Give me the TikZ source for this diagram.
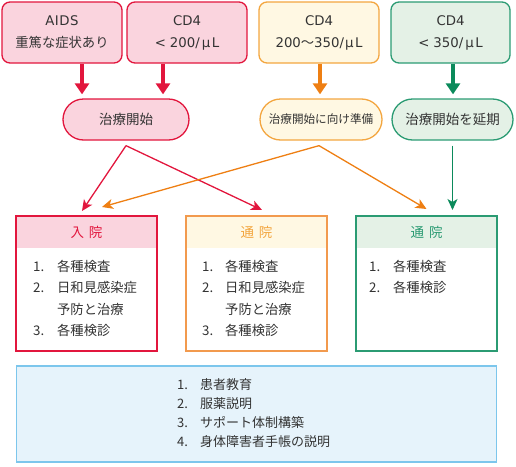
\documentclass[tikz,border=0pt]{standalone}
\usepackage{fontspec}
\setmainfont{Noto Sans CJK JP}
\newfontfamily\lat{DejaVu Sans}
\usetikzlibrary{arrows.meta,shapes.misc,calc}
\definecolor{cred}{HTML}{E2163D}
\definecolor{cpink}{HTML}{FAD4DE}
\definecolor{corTop}{HTML}{F3A640}
\definecolor{corFill}{HTML}{FFF8E3}
\definecolor{corArr}{HTML}{EE7F13}
\definecolor{corBox}{HTML}{F29A4E}
\definecolor{cgreen}{HTML}{2B9B73}
\definecolor{cgFill}{HTML}{E4F1E6}
\definecolor{cgArr}{HTML}{0B8A5B}
\definecolor{cblue}{HTML}{7CC6EC}
\definecolor{cbFill}{HTML}{E6F3FB}
\definecolor{ctxt}{HTML}{333333}
\begin{document}
\begin{tikzpicture}[x=1pt,y=-1pt,
  topbox/.style={draw, rounded corners=8pt, minimum width=120pt, minimum height=61pt,
    align=center, line width=1.3pt, inner sep=0pt, text=ctxt,
    font=\fontsize{13.3}{22}\selectfont},
  pill/.style={rounded rectangle, draw, minimum height=41pt, line width=1.3pt,
    inner sep=0pt, text=ctxt, font=\fontsize{13.5}{16}\selectfont},
  bigarrow/.style={line width=4pt, -{Triangle[width=14pt,length=11pt]}, shorten >=4pt},
  thinarrow/.style={line width=1.3pt, -{Stealth[length=11pt,width=10pt,inset=3pt]}},
  listbox/.style={draw, line width=2pt, minimum width=141pt, minimum height=135pt, inner sep=0pt},
  hdr/.style={font=\fontsize{13.5}{16}\selectfont},
  items/.style={anchor=base west, inner sep=0pt, text=ctxt, font=\fontsize{13.3}{21.3}\selectfont},
]
\useasboundingbox (0,0) rectangle (516,466);

% top boxes
\node[topbox, draw=cred, fill=cpink] (aids) at (62,32.5) {{\lat A\kern0.5pt I\kern0.5pt D\kern0.5pt S}\\重篤な症状あり};
\node[topbox, draw=cred, fill=cpink] (cdA) at (187,32.5) {{\lat CD4}\\{\lat <\hspace{4pt}200/\hspace{2pt}μ\hspace{1.5pt}L}};
\node[topbox, draw=corTop, fill=corFill] (cdB) at (319,32.5) {{\lat CD4}\\{\lat 200}〜{\lat 350/\hspace{1pt}μ\hspace{1.5pt}L}};
\node[topbox, draw=cgreen, fill=cgFill, minimum width=119pt] (cdC) at (450.5,32.5) {{\lat CD4}\\{\lat <\hspace{4pt}350/\hspace{2pt}μ\hspace{1.5pt}L}};

% pills
\node[pill, draw=cred, fill=cpink, minimum width=126pt] (start) at (126,119.5) {治療開始};
\node[pill, draw=corTop, fill=corFill, minimum width=122pt, font=\fontsize{11.6}{14}\selectfont] (prep) at (321,119.5) {治療開始に向け準備};
\node[pill, draw=cgreen, fill=cgFill, minimum width=121pt] (delay) at (452.5,119.5) {治療開始を延期};

% thick arrows
\draw[bigarrow, cred] ([xshift=20pt]aids.south) -- ([xshift=20pt]aids.south |- start.north);
\draw[bigarrow, cred] ([xshift=-24pt]cdA.south) -- ([xshift=-24pt]cdA.south |- start.north);
\draw[bigarrow, corArr] ([xshift=1pt]cdB.south) -- ([xshift=1pt]cdB.south |- prep.north);
\draw[bigarrow, cgArr] ([xshift=2.5pt]cdC.south) -- ([xshift=2.5pt]cdC.south |- delay.north);

% bottom list boxes
\node[listbox, draw=cred, path picture={\fill[cpink] (path picture bounding box.north west) rectangle ([yshift=-32pt]path picture bounding box.north east);}] (nyuin) at (86.5,283.5) {};
\node[listbox, draw=corBox, path picture={\fill[corFill] (path picture bounding box.north west) rectangle ([yshift=-32pt]path picture bounding box.north east);}] (tsuA) at (256.5,283.5) {};
\node[listbox, draw=cgreen, path picture={\fill[cgFill] (path picture bounding box.north west) rectangle ([yshift=-32pt]path picture bounding box.north east);}] (tsuB) at (426.5,283.5) {};

\node[hdr, text=cred] (hA) at ([yshift=-17pt]nyuin.north) {入\hspace{5pt}院};
\node[hdr, text=corTop] (hB) at ([yshift=-17pt]tsuA.north) {通\hspace{5pt}院};
\node[hdr, text=cgreen] (hC) at ([yshift=-17pt]tsuB.north) {通\hspace{5pt}院};

\node[items] (lA) at (33,271.5) {\begin{tabular}[t]{@{}l@{}}
\makebox[24pt][l]{1.}各種検査\\
\makebox[24pt][l]{2.}日和見感染症\\
\makebox[24pt][l]{}予防と治療\\
\makebox[24pt][l]{3.}各種検診
\end{tabular}};
\node[items] (lB) at (202,271.5) {\begin{tabular}[t]{@{}l@{}}
\makebox[23pt][l]{1.}各種検査\\
\makebox[23pt][l]{2.}日和見感染症\\
\makebox[23pt][l]{}予防と治療\\
\makebox[23pt][l]{3.}各種検診
\end{tabular}};
\node[items] (lC) at (369,271.5) {\begin{tabular}[t]{@{}l@{}}
\makebox[24pt][l]{1.}各種検査\\
\makebox[24pt][l]{2.}各種検診
\end{tabular}};

% thin connectors
\draw[thinarrow, cred] ([yshift=-5pt]start.south) -- ([xshift=-4.5pt,yshift=4pt]nyuin.north);
\draw[thinarrow, cred] ([yshift=-5pt]start.south) -- ([xshift=5.5pt,yshift=5pt]tsuA.north);
\draw[thinarrow, corArr] ([xshift=-2pt,yshift=-5pt]prep.south) -- ([xshift=15.5pt,yshift=8pt]nyuin.north);
\draw[thinarrow, corArr] ([xshift=-2pt,yshift=-5pt]prep.south) -- ([yshift=6pt]tsuB.north);
\draw[thinarrow, cgArr] ([yshift=-5pt]delay.south) -- ($(delay.south |- tsuB.north)+(0,-5)$);

% bottom info box
\node[draw=cblue, fill=cbFill, line width=1.5pt, minimum width=480pt, minimum height=96pt] (info) at (256.5,414) {};
\node[items, font=\fontsize{13}{19}\selectfont] (lD) at (177,389) {\begin{tabular}[t]{@{}l@{}}
\makebox[23pt][l]{1.}患者教育\\
\makebox[23pt][l]{2.}服薬説明\\
\makebox[23pt][l]{3.}サポート体制構築\\
\makebox[23pt][l]{4.}身体障害者手帳の説明
\end{tabular}};
\end{tikzpicture}
\end{document}
